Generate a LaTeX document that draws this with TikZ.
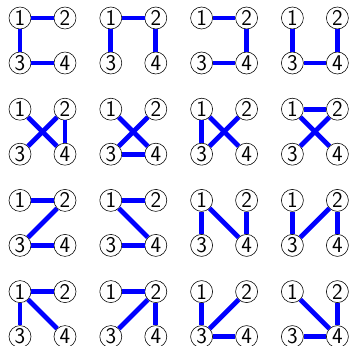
\documentclass[tikz,border=0pt]{standalone}
\usepackage{tikz}

\tikzset{
  vtx/.style={circle, draw, fill=white, thin, inner sep=0pt, minimum size=0.55cm,
    font=\sffamily\fontsize{16}{16}\selectfont},
  edge/.style={blue, line width=3.4pt}
}

\begin{document}
\begin{tikzpicture}[x=0.025cm, y=-0.025cm]
    \useasboundingbox (0,0) rectangle (349,346);
    % the 16 spanning trees, row by row
    \foreach \edges [count=\k from 0] in {
        {1/2,1/3,3/4},{1/2,1/3,2/4},{1/2,2/4,3/4},{1/3,2/4,3/4},
        {1/4,2/3,2/4},{1/4,2/3,3/4},{1/3,1/4,2/3},{1/2,1/4,2/3},
        {1/2,2/3,3/4},{1/2,1/4,3/4},{1/3,1/4,2/4},{1/3,2/3,2/4},
        {1/2,1/3,1/4},{1/2,2/3,2/4},{1/3,2/3,3/4},{1/4,2/4,3/4}} {
        \pgfmathtruncatemacro\col{mod(\k,4)}
        \pgfmathtruncatemacro\row{div(\k,4)}
        \begin{scope}[shift={(20+90.8*\col,18+91.2*\row)}]
            % Nodes
            \node[vtx] (n\k-1) at (0,0) {1};
            \node[vtx] (n\k-2) at (45,0) {2};
            \node[vtx] (n\k-3) at (0,45) {3};
            \node[vtx] (n\k-4) at (45,45) {4};
            % Edges
            \foreach \a/\b in \edges
                \draw[edge] (n\k-\a) -- (n\k-\b);
        \end{scope}
    }
\end{tikzpicture}
\end{document}
